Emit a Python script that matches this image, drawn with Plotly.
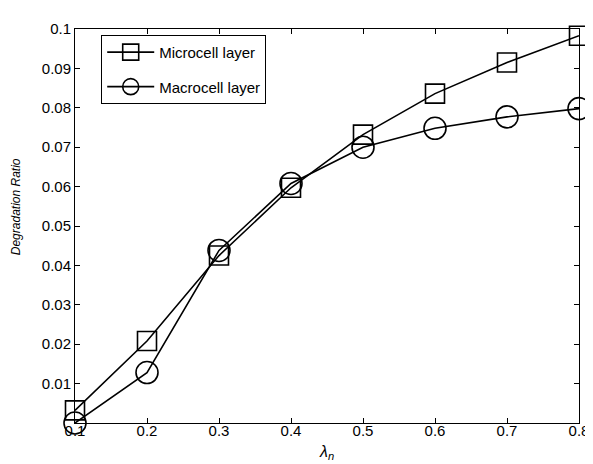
import plotly.graph_objects as go

x_vals = [0.1, 0.2, 0.3, 0.4, 0.5, 0.6, 0.7, 0.8]
microcell = [0.0032, 0.0208, 0.0425, 0.0597, 0.0732, 0.0836, 0.0915, 0.0983]
macrocell = [0.0000, 0.0128, 0.0438, 0.0608, 0.0700, 0.0748, 0.0777, 0.0798]
y_ticks = [0.01, 0.02, 0.03, 0.04, 0.05, 0.06, 0.07, 0.08, 0.09, 0.1]
y_tick_labels = ["0.01", "0.02", "0.03", "0.04", "0.05", "0.06", "0.07", "0.08", "0.09", "0.1"]
x_tick_labels = ["0.1", "0.2", "0.3", "0.4", "0.5", "0.6", "0.7", "0.8"]

font = "Liberation Sans, Arial, sans-serif"

fig = go.Figure()
fig.add_trace(go.Scatter(
    x=x_vals, y=microcell, name="Microcell layer", mode="lines+markers",
    legendgroup="a",
    line=dict(color="black", width=1.6),
    marker=dict(symbol="square-open", size=19, color="black", line=dict(width=1.6)),
    cliponaxis=False,
))
fig.add_trace(go.Scatter(
    x=x_vals, y=macrocell, name="Macrocell layer", mode="lines+markers",
    legendgroup="b",
    line=dict(color="black", width=1.6),
    marker=dict(symbol="circle-open", size=22, color="black", line=dict(width=1.6)),
    cliponaxis=False,
))

axis_common = dict(
    showgrid=False, zeroline=False, showline=True, linecolor="black", linewidth=1,
    mirror="ticks", ticks="inside", ticklen=5, tickcolor="black",
    tickfont=dict(family=font, size=15, color="black"),
)

fig.update_layout(
    width=593, height=464,
    margin=dict(l=67, r=13, t=14, b=49),
    paper_bgcolor="white", plot_bgcolor="white",
    xaxis=dict(range=[0.1, 0.8], tickvals=x_vals, ticktext=x_tick_labels,
               ticklabelstandoff=-6, **axis_common),
    yaxis=dict(range=[0, 0.1], tickvals=y_ticks, ticktext=y_tick_labels, **axis_common),
    showlegend=True,
    legend=dict(
        x=0.052, y=0.985, xanchor="left", yanchor="top",
        bordercolor="black", borderwidth=1, bgcolor="white",
        font=dict(family=font, size=15, color="black"),
        itemwidth=47, tracegroupgap=12,
    ),
    annotations=[
        dict(text="<i>Degradation Ratio</i>", xref="paper", yref="paper",
             x=-0.118, y=0.549, xanchor="center", yanchor="middle",
             textangle=-90, showarrow=False,
             font=dict(family=font, size=12, color="black")),
        dict(text="<i>λ<sub>n</sub></i>", xref="paper", yref="paper",
             x=0.499, y=-0.075, xanchor="center", yanchor="middle", showarrow=False,
             font=dict(family=font, size=16, color="black")),
    ],
)

fig.write_html("out.html")
